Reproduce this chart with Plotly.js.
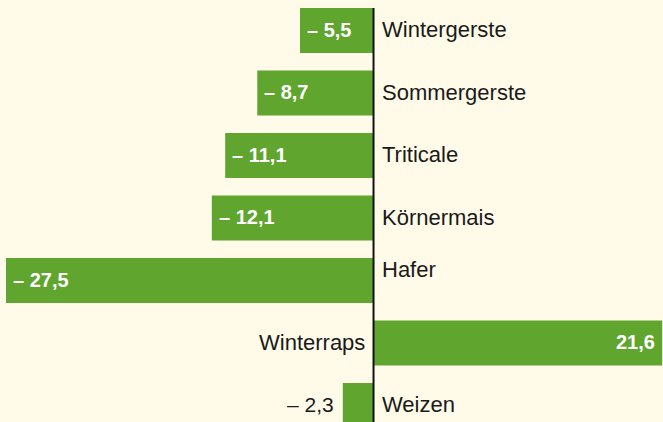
<!DOCTYPE html>
<html>
<head>
<meta charset="utf-8">
<script src="https://cdn.plot.ly/plotly-3.0.1.min.js"></script>
<style>
html,body{margin:0;padding:0;background:#fffbe8;}
#chart{width:663px;height:422px;}
</style>
</head>
<body>
<div id="chart"></div>
<script>
const categories = ["Wintergerste", "Sommergerste", "Triticale", "Körnermais", "Hafer", "Winterraps", "Weizen"];
const values = [-5.5, -8.7, -11.1, -12.1, -27.5, 21.6, -2.3];

const GREEN = "#5fa52e";
const BG = "#fffbe8";
const FONT = "Liberation Sans, Arial, sans-serif";

function fmt(v) {
  const s = Math.abs(v).toFixed(1).replace(".", ",");
  return v < 0 ? "\u2013 " + s : s;
}

const annotations = [];
categories.forEach((c, i) => {
  const v = values[i];
  annotations.push({
    x: 0, y: c, xref: "x", yref: "y",
    text: c, showarrow: false,
    xanchor: v < 0 ? "left" : "right",
    xshift: v < 0 ? 6 : -7,
    yshift: (c === "Hafer" ? 10 : 0) + 1,
    font: {family: FONT, size: 22, color: "#1a1a1a"}
  });
  const inside = Math.abs(v) > 4;
  let anchor, shift, font;
  if (inside) {
    anchor = v < 0 ? "left" : "right";
    shift = v < 0 ? 5 : -5;
    font = {family: FONT, size: 20, color: "#ffffff", weight: "bold"};
  } else {
    anchor = v < 0 ? "right" : "left";
    shift = v < 0 ? -7 : 7;
    font = {family: FONT, size: 21, color: "#1a1a1a"};
  }
  annotations.push({
    x: v, y: c, xref: "x", yref: "y",
    text: inside ? "<b>" + fmt(v) + "</b>" : fmt(v),
    showarrow: false, xanchor: anchor, xshift: shift, yshift: 1,
    font: font
  });
});

const trace = {
  type: "bar", orientation: "h",
  x: values, y: categories,
  width: 0.72,
  marker: {color: GREEN, line: {width: 0}},
  hoverinfo: "skip"
};

const layout = {
  width: 663, height: 422,
  margin: {l: 0, r: 0, t: 0, b: 0},
  paper_bgcolor: BG, plot_bgcolor: BG,
  showlegend: false,
  xaxis: {range: [-27.95, 21.66], showgrid: false, zeroline: false, showticklabels: false, ticks: "", showline: false},
  yaxis: {type: "category", range: [6.264, -0.488], showgrid: false, zeroline: false, showticklabels: false, ticks: "", showline: false},
  shapes: [{
    type: "line", xref: "x", yref: "y",
    x0: 0, x1: 0, y0: -0.36, y1: 7,
    line: {color: "#111111", width: 2}
  }],
  annotations: annotations
};

Plotly.newPlot("chart", [trace], layout, {displayModeBar: false, staticPlot: true});
</script>
</body>
</html>
